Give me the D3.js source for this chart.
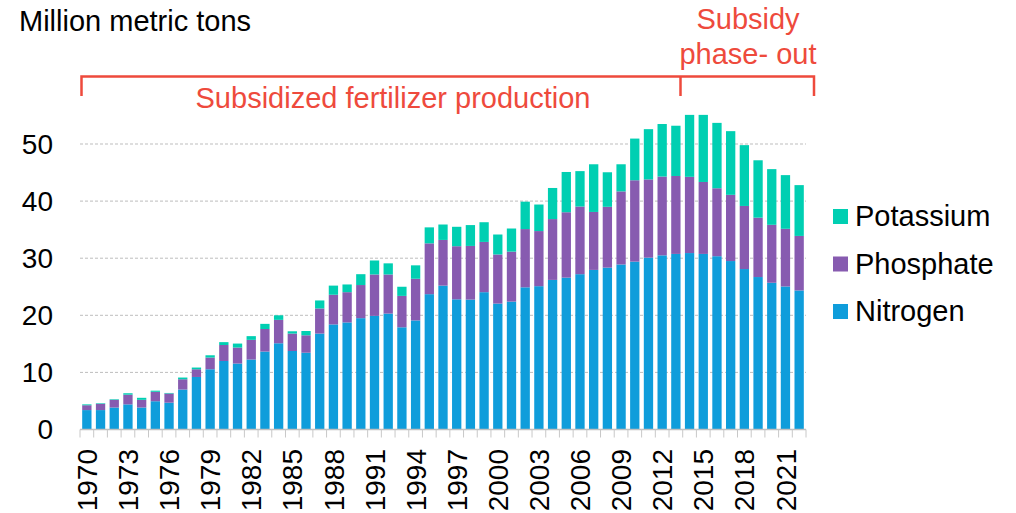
<!DOCTYPE html>
<html>
<head>
<meta charset="utf-8">
<script src="https://cdn.jsdelivr.net/npm/d3@7"></script>
<style>
    body { margin: 0; background: #fff; }
    svg text { font-family: "Liberation Sans", Arial, sans-serif; }
</style>
</head>
<body>
<script>
(function () {

    // years on the x axis
    var years = d3.range(1970, 2023);

    // million metric tons
    var nitrogen = [3.4, 3.4, 3.85, 4.4, 3.85, 4.95, 4.7, 7.0, 9.2, 10.55,
        12.0, 11.55, 12.25, 13.65, 15.1, 13.75, 13.45, 16.8, 18.4, 18.75,
        19.5, 19.9, 20.3, 17.9, 19.1, 23.7, 25.2, 22.8, 22.75, 24.05,
        22.05, 22.4, 24.9, 25.1, 26.2, 26.6, 27.2, 27.95, 28.35, 28.9,
        29.4, 30.1, 30.5, 30.75, 30.9, 30.75, 30.35, 29.5, 28.1, 26.7,
        25.7, 25.05, 24.35];
    var phosphate = [0.85, 1.1, 1.35, 1.7, 1.35, 1.65, 1.6, 1.8, 1.35, 2.05,
        2.8, 2.8, 3.45, 3.95, 4.1, 3.05, 3.05, 4.4, 5.2, 5.3,
        5.8, 7.25, 6.85, 5.5, 7.3, 8.9, 8.0, 9.3, 9.4, 8.8,
        8.6, 8.75, 10.2, 9.65, 10.65, 11.45, 11.85, 10.15, 10.65, 12.8,
        14.25, 13.7, 13.8, 13.65, 13.35, 12.6, 11.9, 11.6, 11.05, 10.4,
        10.15, 10.1, 9.55];
    var potassium = [0.15, 0.1, 0.1, 0.25, 0.35, 0.2, 0.1, 0.3, 0.3, 0.4,
        0.5, 0.7, 0.65, 0.9, 0.8, 0.4, 0.75, 1.4, 1.6, 1.35,
        1.9, 2.45, 1.95, 1.6, 2.35, 2.8, 2.7, 3.4, 3.65, 3.45,
        3.5, 4.05, 4.8, 4.65, 5.45, 7.05, 6.2, 8.35, 6.05, 4.75,
        7.3, 8.8, 9.2, 8.8, 10.85, 11.75, 11.45, 11.15, 10.65, 10.05,
        9.75, 9.4, 8.9];

    var seriesKeys = ["Nitrogen", "Phosphate", "Potassium"];
    var colors = ["#0f9ddb", "#875bb0", "#00cfb2"];
    var yTicks = [0, 10, 20, 30, 40, 50];
    var yearLabels = d3.range(1970, 2023, 3);

    var width = 1016,
        height = 513,
        x0 = 80,
        x1 = 806,
        red = "#ee4a3c";

    var svg = d3.select("body")
        .append("svg")
        .attr("width", width)
        .attr("height", height);

    var table = years.map(function (y, i) {
        return { year: y, Nitrogen: nitrogen[i], Phosphate: phosphate[i], Potassium: potassium[i] };
    });

    var stacked = d3.stack().keys(seriesKeys)(table);

    var xScale = d3.scaleBand()
        .domain(years)
        .range([x0, x1])
        .paddingInner(0.32)
        .paddingOuter(0.16);

    var yScale = d3.scaleLinear()
        .domain([0, 50])
        .range([429.5, 144]);

    // gridlines
    svg.append("g")
        .selectAll("line")
        .data(yTicks.slice(1))
        .enter()
        .append("line")
        .attr("x1", x0)
        .attr("x2", x1)
        .attr("y1", function (d) { return yScale(d); })
        .attr("y2", function (d) { return yScale(d); })
        .attr("stroke", "#bdbdbd")
        .attr("stroke-width", 1)
        .attr("stroke-dasharray", "3,2");

    // y labels
    svg.append("g")
        .selectAll("text")
        .data(yTicks)
        .enter()
        .append("text")
        .attr("x", 53)
        .attr("y", function (d) { return yScale(d); })
        .attr("dy", "0.35em")
        .attr("text-anchor", "end")
        .style("font-size", "28px")
        .attr("fill", "#000")
        .text(function (d) { return d; });

    // stacked bars
    var layers = svg.selectAll(".layer")
        .data(stacked)
        .enter()
        .append("g")
        .attr("class", "layer")
        .attr("fill", function (d, i) { return colors[i]; });

    layers.selectAll("rect")
        .data(function (d) { return d; })
        .enter()
        .append("rect")
        .attr("x", function (d) { return xScale(d.data.year); })
        .attr("width", xScale.bandwidth())
        .attr("y", function (d) { return yScale(d[1]); })
        .attr("height", function (d) { return yScale(d[0]) - yScale(d[1]); });

    // axis line and category boundary ticks
    var step = (x1 - x0) / years.length;
    var axisY = yScale(0);
    svg.append("line")
        .attr("x1", x0)
        .attr("x2", x1)
        .attr("y1", axisY)
        .attr("y2", axisY)
        .attr("stroke", "#bfbfbf")
        .attr("stroke-width", 1.5);

    svg.append("g")
        .selectAll("line")
        .data(d3.range(years.length + 1))
        .enter()
        .append("line")
        .attr("x1", function (i) { return x0 + i * step; })
        .attr("x2", function (i) { return x0 + i * step; })
        .attr("y1", axisY)
        .attr("y2", axisY + 8)
        .attr("stroke", "#c8c8c8")
        .attr("stroke-width", 1);

    // rotated year labels
    svg.append("g")
        .selectAll("text")
        .data(yearLabels)
        .enter()
        .append("text")
        .attr("transform", function (d) {
            return "translate(" + (xScale(d) + xScale.bandwidth() / 2) + "," + 449 + ") rotate(-90)";
        })
        .attr("dy", "0.36em")
        .attr("text-anchor", "end")
        .style("font-size", "28px")
        .attr("fill", "#000")
        .text(function (d) { return d; });

    // unit title
    svg.append("text")
        .attr("x", 19)
        .attr("y", 31)
        .style("font-size", "29px")
        .attr("fill", "#000")
        .text("Million metric tons");

    // bracket annotation
    var bracket = svg.append("g")
        .attr("stroke", red)
        .attr("stroke-width", 2.5)
        .attr("fill", "none");

    bracket.append("path")
        .attr("d", "M81.5,96V76.5H814V96");
    bracket.append("line")
        .attr("x1", 680.5)
        .attr("x2", 680.5)
        .attr("y1", 76.5)
        .attr("y2", 96);

    svg.append("text")
        .attr("x", 393)
        .attr("y", 108)
        .attr("text-anchor", "middle")
        .style("font-size", "29px")
        .attr("fill", red)
        .text("Subsidized fertilizer production");

    svg.append("text")
        .attr("x", 748)
        .attr("y", 29)
        .attr("text-anchor", "middle")
        .style("font-size", "29px")
        .attr("fill", red)
        .text("Subsidy");

    svg.append("text")
        .attr("x", 748)
        .attr("y", 64)
        .attr("text-anchor", "middle")
        .style("font-size", "29px")
        .attr("fill", red)
        .text("phase- out");

    // legend, top to bottom
    var legendKeys = seriesKeys.slice().reverse();
    var legendColors = colors.slice().reverse();

    var legend = svg.selectAll(".legend")
        .data(legendKeys)
        .enter()
        .append("g")
        .attr("class", "legend")
        .attr("transform", function (d, i) {
            return "translate(833," + (209 + i * 47.5) + ")";
        });

    legend.append("rect")
        .attr("width", 15)
        .attr("height", 15)
        .attr("fill", function (d, i) { return legendColors[i]; });

    legend.append("text")
        .attr("x", 22)
        .attr("y", 17)
        .style("font-size", "29px")
        .attr("fill", "#000")
        .text(function (d) { return d; });

})();
</script>
</body>
</html>
